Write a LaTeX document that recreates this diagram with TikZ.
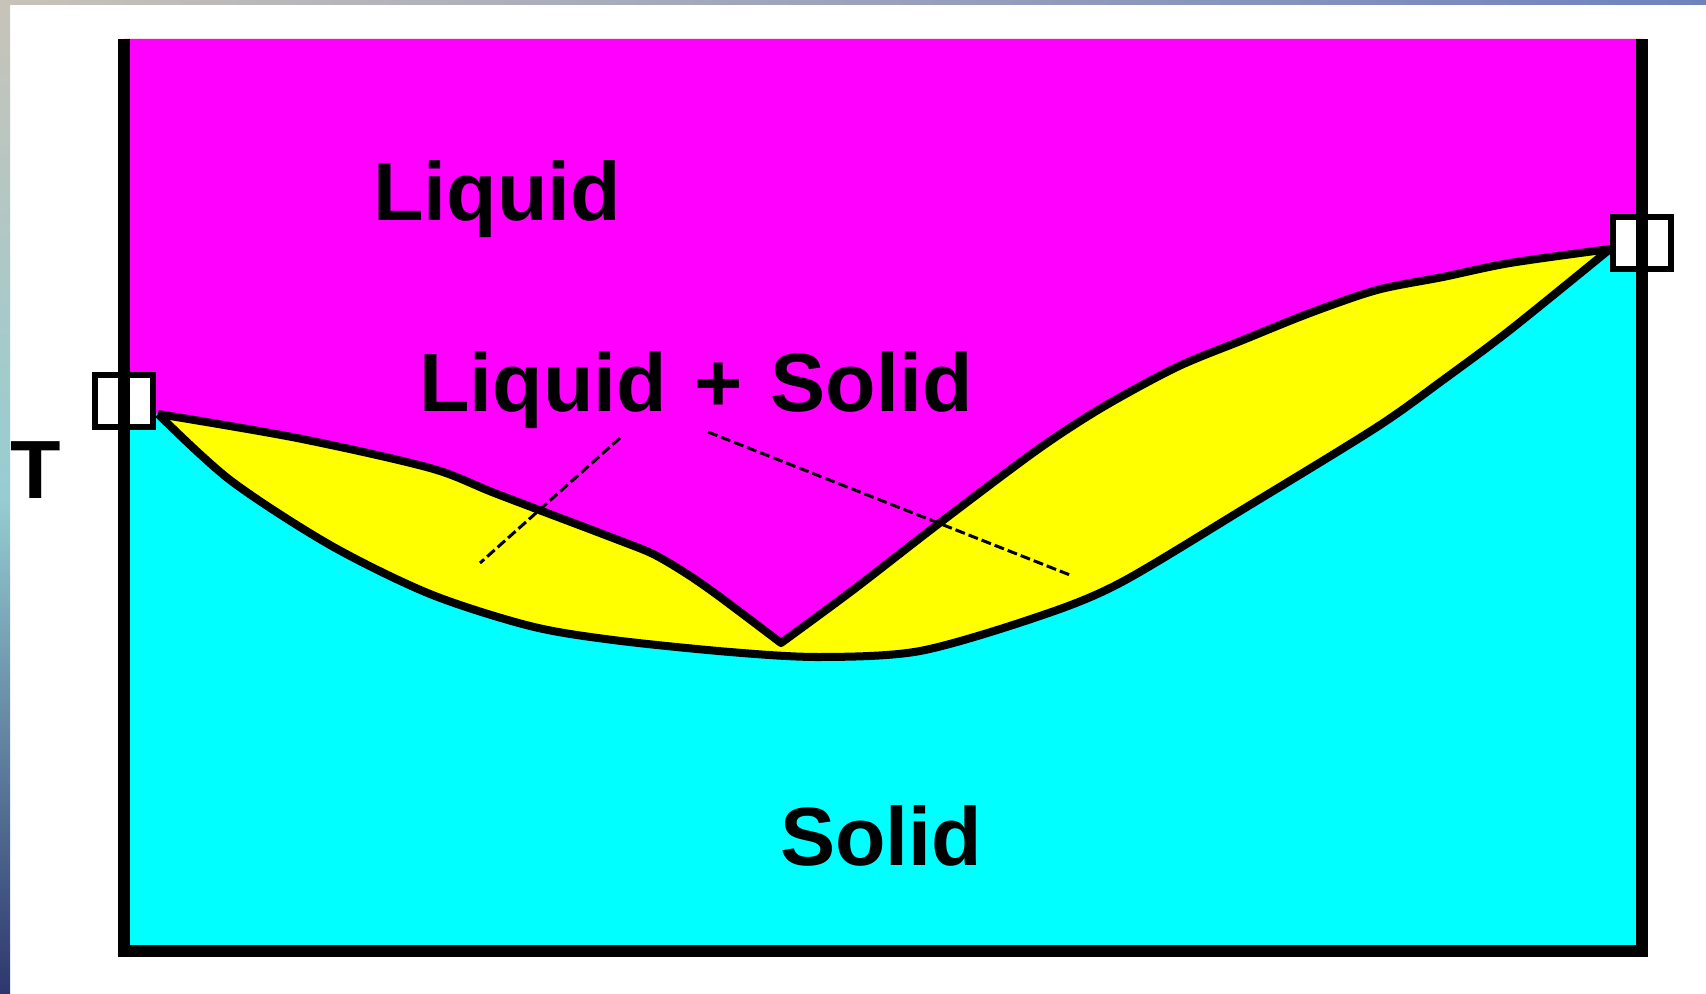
\documentclass[tikz,border=0pt]{standalone}
\usepackage{fontspec}
\setmainfont{Liberation Sans}
\usepackage{xcolor}
\definecolor{liqcol}{RGB}{255,0,255}
\definecolor{mixcol}{RGB}{255,255,0}
\definecolor{solcol}{RGB}{0,255,255}
\definecolor{slidetop}{RGB}{200,195,185}
\definecolor{slidemid}{RGB}{150,205,210}
\definecolor{slidebot}{RGB}{45,55,110}
\definecolor{slideblue}{RGB}{110,130,190}

\begin{document}
\begin{tikzpicture}[x=0.01cm, y=-0.01cm,
  curve/.style={line width=0.08cm, line join=round},
  frame/.style={line width=0.12cm},
  tie/.style={line width=0.03cm, dash pattern=on 0.1cm off 0.04cm},
  marker/.style={rectangle, draw, fill=white, line width=0.06cm, minimum width=0.58cm, minimum height=0.51cm, inner sep=0pt},
  phase/.style={font=\bfseries\fontsize{23.5}{27}\selectfont, anchor=base, inner sep=0pt}]
\useasboundingbox (0,0) rectangle (1706,994);
\fill[white] (0,0) rectangle (1706,994);
\shade[top color=slidetop, bottom color=slidebot, middle color=slidemid] (0,0) rectangle (10,994);
\shade[left color=slidetop, right color=slideblue] (0,0) rectangle (1706,5);

\coordinate (lstart) at (158,414);
\coordinate (mini) at (781,643);
\coordinate (rend) at (1610,249);

\fill[solcol] (124,39) rectangle (1642,951);
\fill[mixcol] (124,39) -- (124,414) -- plot[smooth, tension=0.5] coordinates {(lstart) (230,480) (330,545) (430,594) (530,626) (613,640) (730,652) (820,657) (920,651) (1037,617) (1120,583) (1250,505) (1377,427) (1443,380) (1510,330) (rend)} -- (1642,249) -- (1642,39) -- cycle;
\fill[liqcol] (124,39) -- (124,414) -- plot[smooth, tension=0.5] coordinates {(lstart) (297,438) (430,468) (497,494) (613,538) (653,554) (687,574) (720,597) (mini)} -- plot[smooth, tension=0.5] coordinates {(mini) (853,590) (937,525) (1037,450) (1103,407) (1177,367) (1243,340) (1310,313) (1377,290) (1443,277) (1510,263) (rend)} -- (1642,249) -- (1642,39) -- cycle;

\draw[curve] plot[smooth, tension=0.5] coordinates {(lstart) (230,480) (330,545) (430,594) (530,626) (613,640) (730,652) (820,657) (920,651) (1037,617) (1120,583) (1250,505) (1377,427) (1443,380) (1510,330) (rend)};
\draw[curve] plot[smooth, tension=0.5] coordinates {(lstart) (297,438) (430,468) (497,494) (613,538) (653,554) (687,574) (720,597) (mini)} -- plot[smooth, tension=0.5] coordinates {(mini) (853,590) (937,525) (1037,450) (1103,407) (1177,367) (1243,340) (1310,313) (1377,290) (1443,277) (1510,263) (rend)};

\coordinate (tie1a) at (620,438);
\coordinate (tie1b) at (480,563);
\coordinate (tie2a) at (708,432);
\coordinate (tie2b) at (1070,575);
\draw[tie] (tie1a) -- (tie1b);
\draw[tie] (tie2a) -- (tie2b);

\node[marker] (lmark) at (124,401) {};
\node[marker] (rmark) at (1642,243) {};
\draw[frame] (124,39) -- (124,951) -- (1642,951) -- (1642,39);

\node[phase] (liquid) at (497,221) {Liquid};
\node[phase] (twophase) at (696,411) {Liquid\,\,+\,\,Solid};
\node[phase] (solid) at (881,865) {Solid};
\node[phase] (temp) at (36,498) {T};
\end{tikzpicture}
\end{document}
